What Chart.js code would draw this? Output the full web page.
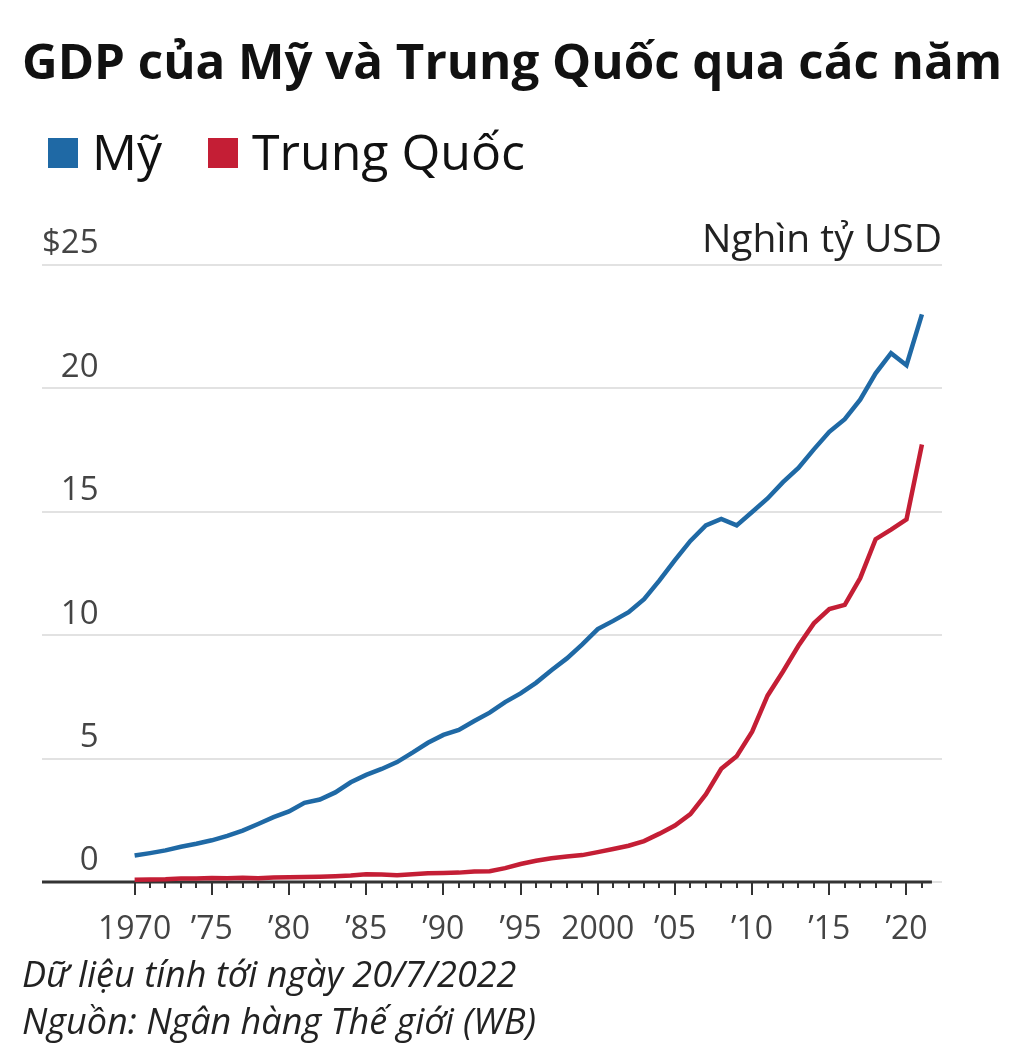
<!DOCTYPE html>
<html>
<head>
<meta charset="utf-8">
<script src="https://cdn.jsdelivr.net/npm/chart.js@4"></script>
<style>
  body { margin: 0; background: #fff; font-family: "Open Sans", sans-serif; }
  #wrap { position: absolute; left: 0; top: 0; width: 1014px; height: 1054px; }
  .txt { position: absolute; white-space: nowrap; line-height: 1; color: #111; }
  #title { left: 22px; top: 37px; font-size: 48px; font-weight: 700; transform-origin: left top; }
  .sq { position: absolute; width: 30px; height: 30px; top: 138px; }
  .leg { top: 126px; font-size: 50px; }
  #unit { right: 72px; top: 217px; font-size: 39px; color: #222; }
  .foot { left: 22px; font-size: 36px; font-style: italic; color: #222; }
</style>
</head>
<body>
<div id="wrap"><canvas id="chart"></canvas></div>
<div class="txt" id="title">GDP của Mỹ và Trung Quốc qua các năm</div>
<div class="sq" style="left:48px;background:#1f69a5"></div>
<div class="txt leg" style="left:92px">Mỹ</div>
<div class="sq" style="left:208px;background:#c41e35"></div>
<div class="txt leg" style="left:252px">Trung Quốc</div>
<div class="txt" id="unit">Nghìn tỷ USD</div>
<div class="txt foot" style="top:956px">Dữ liệu tính tới ngày 20/7/2022</div>
<div class="txt foot" style="top:1003px">Nguồn: Ngân hàng Thế giới (WB)</div>
<script>
// years and GDP in trillion USD
const years = [1970, 1971, 1972, 1973, 1974, 1975, 1976, 1977, 1978, 1979,
    1980, 1981, 1982, 1983, 1984, 1985, 1986, 1987, 1988, 1989,
    1990, 1991, 1992, 1993, 1994, 1995, 1996, 1997, 1998, 1999,
    2000, 2001, 2002, 2003, 2004, 2005, 2006, 2007, 2008, 2009,
    2010, 2011, 2012, 2013, 2014, 2015, 2016, 2017, 2018, 2019,
    2020, 2021];
const usGdp = [1.07, 1.17, 1.28, 1.43, 1.55, 1.69, 1.87, 2.08, 2.35, 2.63,
    2.86, 3.21, 3.34, 3.63, 4.04, 4.34, 4.58, 4.86, 5.24, 5.64,
    5.96, 6.16, 6.52, 6.86, 7.29, 7.64, 8.07, 8.58, 9.06, 9.63,
    10.25, 10.58, 10.93, 11.46, 12.22, 13.04, 13.82, 14.45, 14.71, 14.45,
    14.99, 15.54, 16.20, 16.78, 17.53, 18.24, 18.75, 19.54, 20.61, 21.43,
    20.94, 23.00];
const chinaGdp = [0.09, 0.10, 0.11, 0.14, 0.14, 0.16, 0.15, 0.17, 0.15, 0.18,
    0.19, 0.20, 0.21, 0.23, 0.26, 0.31, 0.30, 0.27, 0.31, 0.35,
    0.36, 0.38, 0.43, 0.44, 0.56, 0.73, 0.86, 0.96, 1.03, 1.09,
    1.21, 1.34, 1.47, 1.66, 1.96, 2.29, 2.75, 3.55, 4.59, 5.10,
    6.09, 7.55, 8.53, 9.57, 10.48, 11.06, 11.23, 12.31, 13.89, 14.28,
    14.69, 17.73];
const xTickYears = [1970, 1975, 1980, 1985, 1990, 1995, 2000, 2005, 2010, 2015, 2020];
const xTickLabels = ['1970', '\u201975', '\u201980', '\u201985', '\u201990', '\u201995', '2000', '\u201905', '\u201910', '\u201915', '\u201920'];
const yTicks = [0, 5, 10, 15, 20, 25];
const yTickLabels = ['0', '5', '10', '15', '20', '$25'];

// fit title to the width of the reference
const title = document.getElementById('title');
title.style.transform = 'scaleX(' + (980 / title.getBoundingClientRect().width) + ')';

// bottom axis line with major / minor year ticks
const axisPlugin = {
    id: 'axisTicks',
    beforeDatasetsDraw(chart) {
        const ctx = chart.ctx, xs = chart.scales.x, ys = chart.scales.y;
        const y0 = ys.getPixelForValue(0);
        ctx.save();
        ctx.strokeStyle = '#333';
        ctx.lineWidth = 3;
        ctx.beginPath();
        ctx.moveTo(chart.chartArea.left, y0);
        ctx.lineTo(xs.getPixelForValue(years[years.length - 1]) + 10, y0);
        ctx.stroke();
        ctx.lineWidth = 2;
        years.forEach(yr => {
            const x = Math.round(xs.getPixelForValue(yr));
            const len = xTickYears.includes(yr) ? 13 : 6;
            ctx.beginPath();
            ctx.moveTo(x, y0);
            ctx.lineTo(x, y0 + len);
            ctx.stroke();
        });
        ctx.restore();
    }
};

new Chart(document.getElementById('chart'), {
    type: 'line',
    data: {
        datasets: [{
            label: 'Mỹ',
            data: years.map((yr, i) => ({x: yr, y: usGdp[i]})),
            borderColor: '#1f69a5',
            borderWidth: 4.5,
            pointRadius: 0,
            order: 2
        }, {
            label: 'Trung Quốc',
            data: years.map((yr, i) => ({x: yr, y: chinaGdp[i]})),
            borderColor: '#c41e35',
            borderWidth: 4.5,
            pointRadius: 0,
            order: 1
        }]
    },
    options: {
        animation: false,
        responsive: true,
        maintainAspectRatio: false,
        layout: {
            padding: {left: 42, right: 72, top: 265, bottom: 112}
        },
        plugins: {
            legend: {display: false},
            tooltip: {enabled: false}
        },
        scales: {
            x: {
                type: 'linear',
                min: 1964,
                max: 2022.3,
                grid: {display: false},
                border: {display: false},
                afterBuildTicks: (scale) => {
                    scale.ticks = xTickYears.map(v => ({value: v}));
                },
                afterFit: (scale) => { scale.height = 60; },
                ticks: {
                    autoSkip: false,
                    maxRotation: 0,
                    padding: 21,
                    color: '#444',
                    font: {family: 'Open Sans', size: 32},
                    callback: (v) => xTickLabels[xTickYears.indexOf(v)]
                }
            },
            y: {
                min: 0,
                max: 25,
                border: {display: false},
                grid: {
                    color: '#e2e2e2',
                    lineWidth: 2,
                    drawTicks: false
                },
                afterBuildTicks: (scale) => {
                    scale.ticks = yTicks.map(v => ({value: v}));
                },
                afterFit: (scale) => { scale.width = 0; },
                ticks: {
                    mirror: true,
                    crossAlign: 'far',
                    padding: 0,
                    labelOffset: -21,
                    color: '#444',
                    font: {family: 'Open Sans', size: 33},
                    callback: (v) => yTickLabels[yTicks.indexOf(v)]
                }
            }
        }
    },
    plugins: [axisPlugin]
});
</script>
</body>
</html>
